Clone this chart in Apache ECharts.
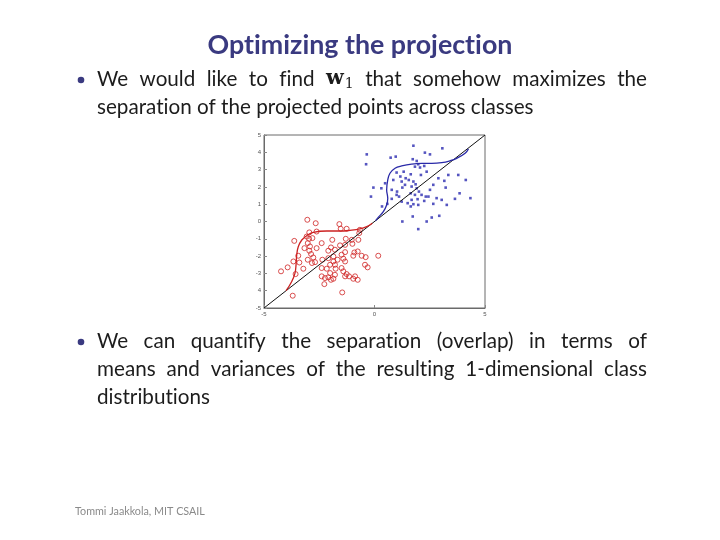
<!DOCTYPE html>
<html><head><meta charset="utf-8">
<script src="https://cdn.jsdelivr.net/npm/echarts@6/dist/echarts.min.js"></script>
<style>html,body{margin:0;padding:0;background:#fff}#c{width:720px;height:540px}</style>
</head><body><div id="c"></div>
<script>
// ---- data ----
const bluePoints = [
[-0.35,3.88],[-0.38,3.31],[0.73,3.69],[0.96,3.75],[1.76,4.38],[2.28,3.98],[2.51,3.88],[3.07,4.23],[1.73,3.6],[1.91,3.5],
[1.98,3.31],[1.83,3.17],[2.06,3.12],[2.25,3.21],[2.36,2.88],[2.10,2.69],[1.64,2.73],[1.32,2.88],[1.0,2.83],[1.17,2.6],
[1.41,2.5],[1.55,2.4],[1.76,2.31],[1.86,2.15],[1.23,2.31],[0.85,2.4],[0.48,2.21],[0.31,1.92],[-0.05,1.96],[-0.16,1.44],
[0.78,1.83],[1.02,1.73],[1.26,1.96],[1.38,2.12],[1.68,2.02],[1.91,1.92],[2.01,1.73],[2.13,1.54],[2.32,1.44],[2.51,1.83],
[2.66,2.12],[2.89,2.5],[3.16,2.35],[3.22,1.96],[3.34,2.69],[3.64,1.31],[3.79,2.69],[3.85,1.63],[4.13,2.4],[4.34,1.35],
[3.27,0.96],[3.04,1.25],[2.93,0.33],[2.59,0.23],[2.36,0.0],[1.98,-0.44],[1.26,0.0],[1.73,0.29],[1.64,0.87],[1.76,1.0],
[1.98,0.96],[2.25,1.19],[2.44,1.44],[2.66,1.02],[2.81,1.35],[1.5,1.06],[1.23,1.15],[1.11,1.44],[1.0,1.54],[0.78,1.31],
[0.58,1.02],[0.34,0.87],[1.64,1.63],[1.83,1.54],[1.95,1.29],[1.68,1.25]
];
const redPoints = [
[-3.04,0.1],[-2.66,-0.1],[-1.59,-0.15],[-1.53,-0.42],[-1.26,-0.42],[-0.66,-0.48],[-0.69,-0.67],[-2.62,-0.58],[-2.95,-0.63],[-3.07,-0.87],
[-2.96,-1.0],[-2.81,-0.96],[-3.63,-1.12],[-3.02,-1.25],[-3.17,-1.54],[-2.92,-1.44],[-2.39,-1.25],[-1.91,-1.06],[-1.3,-1.0],[-1.03,-1.06],
[-0.73,-1.06],[-1.0,-1.29],[-1.33,-1.35],[-1.56,-1.38],[-1.97,-1.5],[-2.62,-1.54],[-2.09,-1.69],[-1.79,-1.63],[-1.33,-1.77],[-1.49,-1.92],
[-0.91,-1.79],[-0.76,-1.73],[-0.58,-1.98],[-0.96,-1.98],[-3.45,-1.98],[-2.77,-2.08],[-3.02,-2.21],[-3.67,-2.31],[-3.4,-2.37],[-2.83,-2.4],
[-2.69,-2.35],[-2.36,-2.21],[-2.09,-2.12],[-1.86,-2.02],[-1.86,-2.31],[-1.67,-2.21],[-1.41,-2.15],[-1.33,-2.31],[-2.01,-2.5],[-1.79,-2.5],
[-1.76,-2.73],[-2.16,-2.73],[-2.39,-2.69],[-1.49,-2.69],[-1.41,-2.88],[-1.26,-3.04],[-1.15,-3.17],[-1.33,-3.17],[-0.88,-3.17],[-0.76,-3.37],
[-0.96,-3.31],[-2.39,-3.17],[-2.24,-3.27],[-2.09,-3.23],[-1.97,-3.37],[-1.86,-3.31],[-2.27,-3.62],[-1.79,-3.08],[-2.01,-2.98],[-1.46,-4.1],
[-3.7,-4.29],[-4.23,-2.88],[-3.93,-2.65],[-3.22,-2.73],[-3.57,-3.04],[-0.43,-2.5],[-0.31,-2.65],[-0.4,-2.06],[0.17,-1.98],[-2.87,-1.88],
[-2.95,-1.69]
];
const blueCurve = [
[0.05,0.05],[0.17,0.24],[0.40,0.57],[0.55,0.95],[0.60,1.34],[0.55,1.82],[0.60,2.40],[0.70,2.79],[0.93,3.08],[1.23,3.21],
[1.68,3.32],[2.14,3.36],[2.59,3.36],[3.04,3.40],[3.42,3.51],[3.72,3.65],[4.1,3.94],[4.25,4.2]
];
const redCurve = [
[-4.0,-4.0],[-3.75,-3.48],[-3.60,-3.0],[-3.55,-2.51],[-3.52,-1.94],[-3.45,-1.46],[-3.29,-1.07],[-3.07,-0.82],[-2.77,-0.63],[-2.16,-0.55],
[-1.56,-0.55],[-1.11,-0.51],[-0.66,-0.43],[-0.35,-0.30],[-0.1,-0.1]
];
const diagonal = [[-5,-5],[5,5]];
const yTickLabels = ['-5','4','-3','-2','-1','0','1','2','3','4','5'];
const xTickLabels = ['-5','0','5'];

const titleText = 'Optimizing the projection';
const bullet1 = [['We','would','like','to','find','w1','that','somehow','maximizes','the'], ['separation','of','the','projected','points','across','classes']];
const bullet2 = [['We','can','quantify','the','separation','(overlap)','in','terms','of'], ['means','and','variances','of','the','resulting','1-dimensional','class'], ['distributions']];
const footerText = 'Tommi Jaakkola, MIT CSAIL';

// ---- text layout ----
const ZW = '\u200C';
function noLig(t){ return t.replace(/([ft])(?=[itfl])/g, '$1' + ZW); }
const ctx = document.createElement('canvas').getContext('2d');
function mw(t, font){ ctx.font = font; return ctx.measureText(noLig(t)).width; }
const FAM = 'Lato';
const line2 = bullet1[1].join(' ');
const FS = 20 * 437 / mw(line2, '20px ' + FAM);
const bodyFont = FS + 'px ' + FAM;
const wFont = 'bold ' + FS + 'px "DejaVu Serif"';
const subFS = FS * 0.68;
function wordW(w){
  if (w === 'w1') return mw('w', wFont) + mw('1', subFS + 'px "DejaVu Serif"') + 1;
  return mw(w, bodyFont);
}
const graphics = [];
const textColor = '#1c1c1c';
function layoutLine(words, y, justify){
  const widths = words.map(wordW);
  const total = widths.reduce((a,b)=>a+b,0);
  const gap = justify ? (550 - total) / (words.length - 1) : mw(' ', bodyFont);
  let x = 97;
  words.forEach((w,i)=>{
    if (w === 'w1'){
      graphics.push({type:'text', x:x, y:y, style:{text:'w', font:wFont, fill:textColor, align:'left', verticalAlign:'middle'}});
      const ww = mw('w', wFont) + 1;
      graphics.push({type:'text', x:x+ww, y:y+FS*0.25, style:{text:'1', font:subFS+'px "DejaVu Serif"', fill:textColor, align:'left', verticalAlign:'middle'}});
    } else {
      graphics.push({type:'text', x:x, y:y, style:{text:noLig(w), font:bodyFont, fill:textColor, align:'left', verticalAlign:'middle'}});
    }
    x += widths[i] + gap;
  });
}
layoutLine(bullet1[0], 79, true);
layoutLine(bullet1[1], 107, false);
layoutLine(bullet2[0], 341, true);
layoutLine(bullet2[1], 369, true);
layoutLine(bullet2[2], 397, false);
graphics.push({type:'circle', shape:{cx:81, cy:80, r:3.3}, style:{fill:'#3a3a80'}});
graphics.push({type:'circle', shape:{cx:81, cy:342, r:3.3}, style:{fill:'#3a3a80'}});
const TFS = 22 * 305 / mw(titleText, 'bold 22px ' + FAM);
graphics.push({type:'text', x:360, y:45, style:{text:noLig(titleText), font:'bold '+TFS+'px '+FAM, fill:'#3a3a80', align:'center', verticalAlign:'middle'}});
const FFS = 12 * 130 / mw(footerText, '12px ' + FAM);
graphics.push({type:'text', x:75, y:512, style:{text:footerText, font:FFS+'px '+FAM, fill:'#8a8a8a', align:'left', verticalAlign:'middle'}});

// ---- chart ----
const chart = echarts.init(document.getElementById('c'), null, {renderer:'canvas'});
const axisCommon = {
  axisLine:{show:true, onZero:false, lineStyle:{color:'#6a6a6a', width:1}},
  axisTick:{show:true, inside:true, length:3, lineStyle:{color:'#8a8a8a'}},
  splitLine:{show:false},
  axisLabel:{fontSize:6, color:'#555', fontFamily:'Liberation Sans', margin:3}
};
chart.setOption({
  animation:false,
  backgroundColor:'#fff',
  grid:{left:264, top:135, width:221, height:173, show:true, borderColor:'#6a6a6a', borderWidth:1, backgroundColor:'transparent'},
  xAxis:Object.assign({type:'value', min:-5, max:5, interval:5}, axisCommon, {
    axisLabel:Object.assign({}, axisCommon.axisLabel, {formatter:(v)=>xTickLabels[Math.round((v+5)/5)]})
  }),
  yAxis:Object.assign({type:'value', min:-5, max:5, interval:1}, axisCommon, {
    axisLabel:Object.assign({}, axisCommon.axisLabel, {formatter:(v)=>yTickLabels[Math.round(v+5)]})
  }),
  series:[
    {type:'scatter', data:redPoints, symbol:'circle', symbolSize:5, itemStyle:{color:'rgba(0,0,0,0)', borderColor:'#d02424', borderWidth:1}, z:2},
    {type:'scatter', data:bluePoints, symbol:'rect', symbolSize:2.6, itemStyle:{color:'#2a2ab0'}, z:2},
    {type:'line', data:diagonal, symbol:'none', lineStyle:{color:'#111', width:1}, z:3},
    {type:'line', data:blueCurve, symbol:'none', smooth:0.4, lineStyle:{color:'#2a2aa8', width:1.3}, z:4},
    {type:'line', data:redCurve, symbol:'none', smooth:0.4, lineStyle:{color:'#cc2222', width:1.3}, z:4}
  ],
  graphic:graphics
});
</script></body></html>
